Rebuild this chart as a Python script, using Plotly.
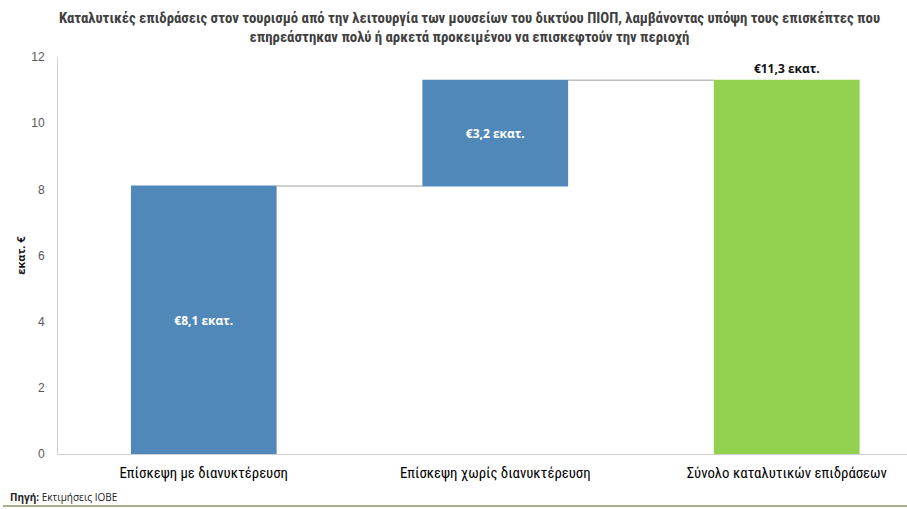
import plotly.graph_objects as go

# chart data
categories = [
    "Επίσκεψη με διανυκτέρευση",
    "Επίσκεψη χωρίς διανυκτέρευση",
    "Σύνολο καταλυτικών επιδράσεων",
]
values = [8.1, 3.2, 11.3]
measures = ["relative", "relative", "total"]
y_ticks = [0, 2, 4, 6, 8, 10, 12]

labels = ["€" + f"{v:.1f}".replace(".", ",") + " εκατ." for v in values]

W, H = 907, 509
L, R, T, B = 58, 0, 57, 55
plot_w = W - L - R
plot_h = H - T - B

BLUE = "#5088B9"
GREEN = "#92D050"
NARROW = "Liberation Sans Narrow, Arial Narrow, Roboto Condensed, sans-serif"

TITLE = (
    "<b>Καταλυτικές επιδράσεις στον τουρισμό από την λειτουργία των μουσείων του δικτύου ΠΙΟΠ, "
    "λαμβάνοντας υπόψη τους επισκέπτες που<br>"
    "επηρεάστηκαν πολύ ή αρκετά προκειμένου να επισκεφτούν την περιοχή</b>"
)

fig = go.Figure()
fig.add_trace(
    go.Waterfall(
        x=categories,
        y=values,
        measure=measures,
        text=labels,
        textposition=["inside", "inside", "outside"],
        insidetextanchor="middle",
        insidetextfont=dict(color="white", size=12, family="Open Sans, sans-serif"),
        outsidetextfont=dict(color="#111111", size=12, family="Open Sans, sans-serif"),
        texttemplate="<b>%{text}</b>",
        increasing=dict(marker=dict(color=BLUE)),
        decreasing=dict(marker=dict(color=BLUE)),
        totals=dict(marker=dict(color=GREEN)),
        connector=dict(line=dict(color="#A0A0A0", width=1), mode="between"),
        width=0.5,
        cliponaxis=False,
        showlegend=False,
        hoverinfo="skip",
    )
)

fig.update_layout(
    width=W,
    height=H,
    margin=dict(l=L, r=R, t=T, b=B),
    paper_bgcolor="white",
    plot_bgcolor="white",
    xaxis=dict(
        range=[-0.5, -0.5 + plot_w / 291.5],
        showline=True,
        linecolor="#D0D0D0",
        linewidth=1,
        showgrid=False,
        ticks="",
        ticklabelstandoff=5,
        tickfont=dict(family=NARROW, size=14.8, color="#000000"),
        fixedrange=True,
    ),
    yaxis=dict(
        range=[0, 12],
        tickvals=y_ticks,
        showline=True,
        linecolor="#D0D0D0",
        linewidth=1,
        showgrid=False,
        zeroline=False,
        ticks="",
        ticklabelstandoff=10,
        tickfont=dict(family="Liberation Sans, sans-serif", size=12, color="#595959"),
        title=dict(
            text="<b>εκατ. €</b>",
            font=dict(family="Open Sans, sans-serif", size=11, color="#111111"),
            standoff=3,
        ),
        fixedrange=True,
    ),
)

# two-line title as an annotation so it stays inside the page
fig.add_annotation(
    text=TITLE,
    xref="paper",
    yref="paper",
    x=(469 - L) / plot_w,
    y=1 + (T - 7) / plot_h,
    xanchor="center",
    yanchor="top",
    showarrow=False,
    align="center",
    font=dict(family=NARROW, size=14.8, color="#404040"),
)

# source note and bottom rule
fig.add_annotation(
    text="<b>Πηγή:</b> Εκτιμήσεις ΙΟΒΕ",
    xref="paper",
    yref="paper",
    x=(8 - L) / plot_w,
    y=(H - B - 497) / plot_h,
    xanchor="left",
    yanchor="middle",
    showarrow=False,
    font=dict(family="Open Sans, sans-serif", size=10, color="#222222"),
)
fig.add_shape(
    type="line",
    xref="paper",
    yref="paper",
    x0=(3 - L) / plot_w,
    x1=1,
    y0=(H - B - 506) / plot_h,
    y1=(H - B - 506) / plot_h,
    line=dict(color="#8F9468", width=1.5),
    layer="above",
)

# drop the page's default body margin so the figure sits at the window's corner
fig.write_html(
    "out.html",
    config={"displayModeBar": False},
    post_script="document.body.style.margin='0';document.body.style.overflow='hidden';",
)
